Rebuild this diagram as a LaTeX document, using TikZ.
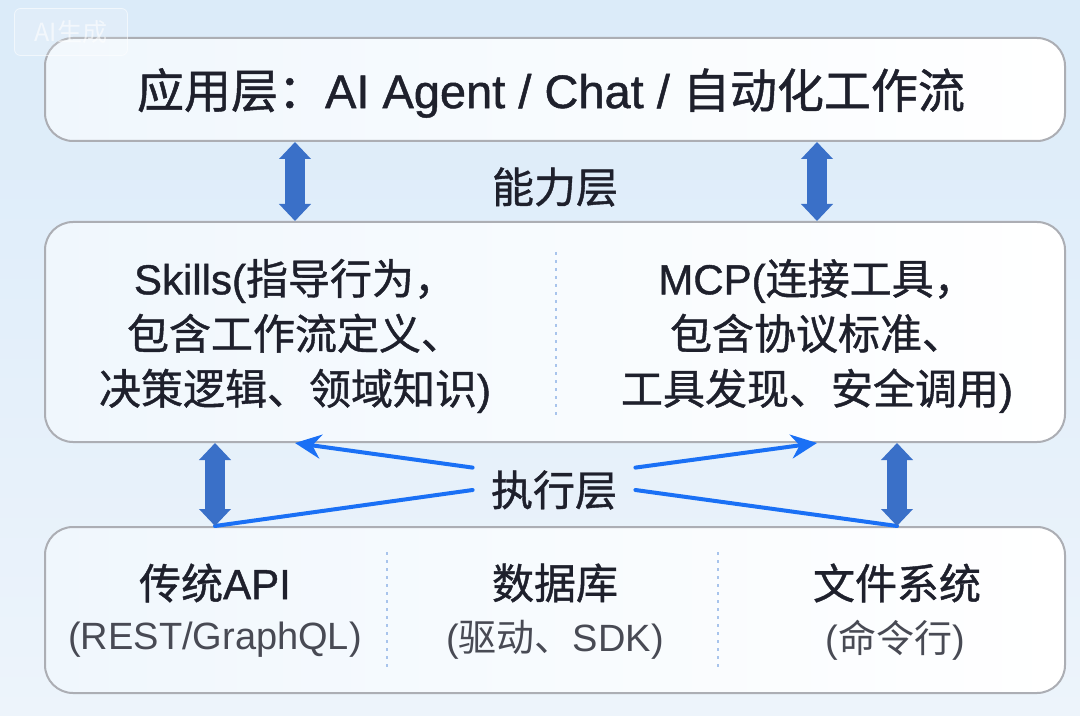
\documentclass[tikz,border=0pt]{standalone}
\usepackage{fontspec}
\setmainfont{Noto Sans CJK SC}
\newfontfamily\cjkhead{Noto Sans CJK SC}[FakeBold=1]
\newfontfamily\latinhead{Liberation Sans}[FakeBold=1]
\newfontfamily\latinnote{Liberation Sans}
\newcommand\latb[1]{{\latinhead #1}}
\newcommand\latr[1]{{\latinnote #1}}
\usetikzlibrary{arrows.meta, positioning, calc}
\definecolor{inkdark}{RGB}{30,32,44}
\definecolor{notegray}{RGB}{72,74,84}
\definecolor{pipeblue}{RGB}{58,112,200}
\definecolor{linkblue}{RGB}{26,112,245}
\definecolor{framegray}{RGB}{172,174,180}
\definecolor{sepblue}{RGB}{168,196,236}
\definecolor{bgtop}{RGB}{219,235,249}
\definecolor{bgbottom}{RGB}{237,244,251}
\definecolor{boxleft}{RGB}{240,247,253}

\tikzset{
  layerbox/.style={draw=framegray, line width=1pt, rounded corners=14pt,
    left color=boxleft, right color=white, minimum width=510pt, inner sep=0pt},
  pipe/.style={draw=pipeblue, line width=10pt,
    {Triangle[width=15.5pt,length=8.5pt]}-{Triangle[width=15.5pt,length=8.5pt]}},
  link/.style={draw=linkblue, line width=2pt, line cap=round},
  sepline/.style={draw=sepblue, line width=1pt, dash pattern=on 1.5pt off 2.5pt},
  title/.style={font=\cjkhead\fontsize{21}{27.5}\selectfont, text=inkdark},
  note/.style={font=\fontsize{19}{22}\selectfont, text=notegray},
}

\begin{document}
\begin{tikzpicture}[x=0.5pt, y=-0.5pt, >=Stealth]
  \fill[top color=bgtop, bottom color=bgbottom] (0,0) rectangle (1080,716);
  \useasboundingbox (0,0) rectangle (1080,716);

  % application layer
  \node[layerbox, minimum height=51.5pt] (app) at (555,89.5) {};
  \node[title, font=\cjkhead\fontsize{23.5}{27}\selectfont] (apptext) at (551,93)
    {应用层：\latb{AI Agent / Chat / }自动化工作流};

  % capability layer
  \node[title] (capname) at (555,187) {能力层};
  \node[layerbox, minimum height=110pt] (cap) at (555,332) {};
  \node[title, align=center] (skills) at (295,336)
    {\latb{Skills(}指导行为，\\包含工作流定义、\\决策逻辑、领域知识\latb{)}};
  \node[title, align=center] (mcp) at (817,336)
    {\latb{MCP(}连接工具，\\包含协议标准、\\工具发现、安全调用\latb{)}};
  \draw[sepline] (556,252) -- (556,415);

  % execution layer
  \node[layerbox, minimum height=83pt] (base) at (555,610) {};
  \node[title] (api) at (215,583) {传统\latb{API}};
  \node[note] (apinote) at (215,640) {\latr{(REST/GraphQL)}};
  \node[title] (db) at (555,583) {数据库};
  \node[note] (dbnote) at (555,640) {\latr{(}驱动、\latr{SDK)}};
  \node[title] (files) at (897,583) {文件系统};
  \node[note] (filesnote) at (895,640) {\latr{(}命令行\latr{)}};
  \draw[sepline] (387,552) -- (387,672);
  \draw[sepline] (718,552) -- (718,672);

  \node[title, minimum width=81pt, minimum height=22pt, inner sep=0pt] (exec) at (554,490) {执行层};

  \draw[link, -{Stealth[length=13pt,width=12pt]}] (exec.north west) -- (skills |- cap.south);
  \draw[link, -{Stealth[length=13pt,width=12pt]}] (exec.north east) -- (mcp |- cap.south);
  \draw[link] (exec.west) -- (api |- base.north);
  \draw[link] (exec.east) -- (files |- base.north);

  \draw[pipe] (skills |- app.south) -- (skills |- cap.north);
  \draw[pipe] (mcp |- app.south) -- (mcp |- cap.north);
  \draw[pipe] (api |- cap.south) -- (api |- base.north);
  \draw[pipe] (files |- cap.south) -- (files |- base.north);

  % watermark
  \node[draw=white, fill=white, fill opacity=0.15, draw opacity=0.6, text opacity=0.6,
    text=white, rounded corners=3pt, minimum width=56.5pt, minimum height=23.5pt,
    font=\fontsize{12.5}{14}\selectfont] (mark) at (71,32) {AI生成};
\end{tikzpicture}
\end{document}
